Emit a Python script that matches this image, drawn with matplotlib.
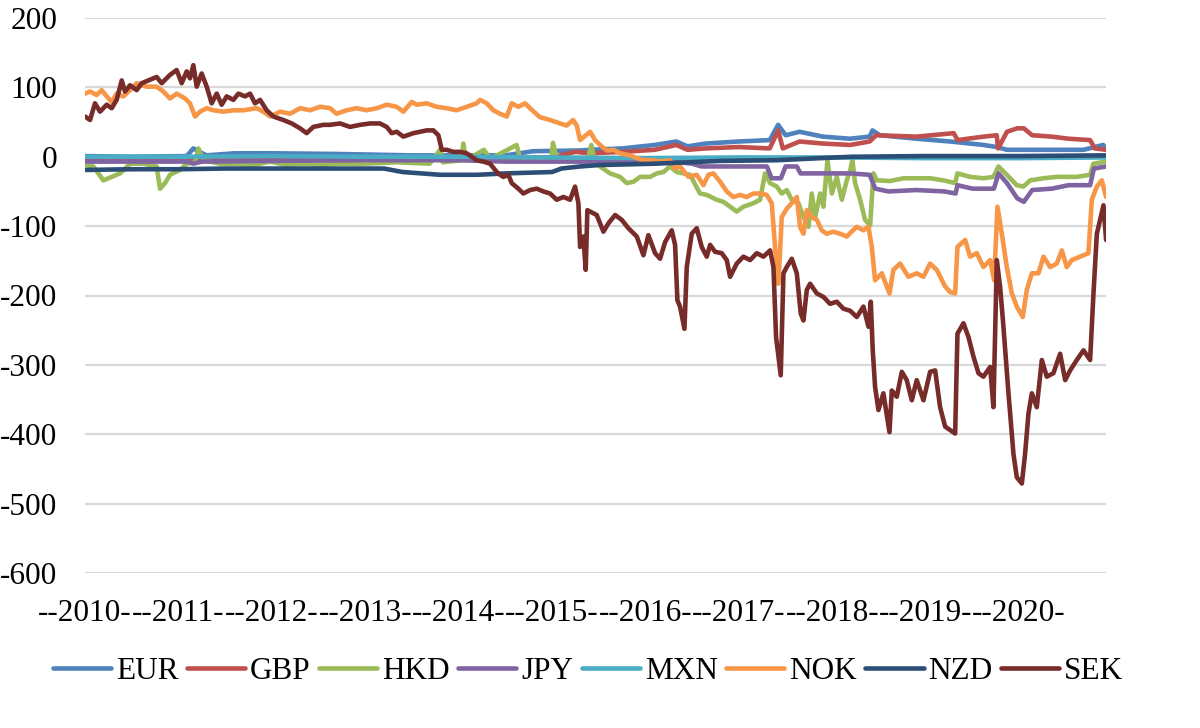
import numpy as np
import matplotlib
matplotlib.use("Agg")
import matplotlib.pyplot as plt

# values; time in decimal years
sek_t = [2010.000, 2010.054, 2010.107, 2010.161, 2010.232, 2010.286, 2010.339, 2010.393, 2010.428, 2010.482,
         2010.553, 2010.607, 2010.678, 2010.767, 2010.821, 2010.910, 2010.981, 2011.035, 2011.089, 2011.124,
         2011.160, 2011.196, 2011.249, 2011.303, 2011.356, 2011.410, 2011.463, 2011.517, 2011.588, 2011.642,
         2011.713, 2011.767, 2011.820, 2011.874, 2011.945, 2012.016, 2012.123, 2012.213, 2012.302, 2012.373,
         2012.444, 2012.552, 2012.623, 2012.730, 2012.837, 2012.944, 2013.051, 2013.158, 2013.230, 2013.283,
         2013.337, 2013.408, 2013.515, 2013.587, 2013.658, 2013.729, 2013.783, 2013.819, 2013.872, 2013.944,
         2014.015, 2014.086, 2014.140, 2014.193, 2014.265, 2014.336, 2014.408, 2014.443, 2014.479, 2014.532,
         2014.568, 2014.639, 2014.693, 2014.764, 2014.836, 2014.907, 2014.979, 2015.050, 2015.121, 2015.193,
         2015.246, 2015.282, 2015.300, 2015.335, 2015.360, 2015.378, 2015.407, 2015.478, 2015.550, 2015.603,
         2015.675, 2015.746, 2015.817, 2015.907, 2015.978, 2016.031, 2016.103, 2016.156, 2016.210, 2016.281,
         2016.317, 2016.342, 2016.370, 2016.417, 2016.442, 2016.495, 2016.549, 2016.602, 2016.656, 2016.692,
         2016.745, 2016.816, 2016.870, 2016.906, 2016.977, 2017.048, 2017.120, 2017.191, 2017.263, 2017.334,
         2017.370, 2017.398, 2017.448, 2017.477, 2017.512, 2017.566, 2017.620, 2017.662, 2017.691, 2017.727,
         2017.762, 2017.834, 2017.905, 2017.976, 2018.048, 2018.119, 2018.191, 2018.262, 2018.333, 2018.387,
         2018.412, 2018.433, 2018.458, 2018.494, 2018.547, 2018.612, 2018.637, 2018.690, 2018.744, 2018.797,
         2018.851, 2018.904, 2018.976, 2019.047, 2019.101, 2019.154, 2019.208, 2019.261, 2019.315, 2019.340,
         2019.404, 2019.458, 2019.511, 2019.565, 2019.618, 2019.690, 2019.725, 2019.761, 2019.797, 2019.832,
         2019.886, 2019.939, 2019.975, 2020.029, 2020.064, 2020.100, 2020.136, 2020.189, 2020.243, 2020.296,
         2020.367, 2020.439, 2020.493, 2020.546, 2020.617, 2020.689, 2020.760, 2020.796, 2020.832, 2020.867,
         2020.903, 2020.931]
sek_v = [58, 53, 77, 65, 75, 70, 82, 110, 94, 103,
         96, 106, 110, 115, 106, 118, 125, 106, 123, 113,
         132, 101, 120, 101, 77, 91, 75, 87, 82, 91,
         87, 91, 77, 82, 67, 58, 53, 48, 41, 34,
         43, 46, 46, 48, 43, 46, 48, 48, 43, 34,
         36, 29, 34, 36, 38, 38, 31, 10, 10, 7,
         7, 5, 0, -5, -7, -10, -22, -26, -29, -26,
         -38, -46, -53, -48, -46, -50, -53, -62, -58, -62,
         -43, -67, -130, -115, -163, -77, -79, -84, -108, -96,
         -84, -91, -103, -115, -142, -113, -139, -147, -123, -106,
         -127, -207, -216, -248, -159, -111, -103, -130, -144, -127,
         -137, -139, -149, -173, -154, -144, -149, -139, -144, -135,
         -159, -260, -315, -168, -159, -147, -168, -226, -236, -192,
         -183, -197, -202, -212, -209, -219, -222, -231, -216, -245,
         -209, -279, -332, -365, -341, -397, -337, -346, -310, -322,
         -351, -322, -351, -310, -308, -361, -389, -394, -399, -255,
         -240, -260, -288, -312, -317, -303, -361, -149, -188, -245,
         -341, -428, -462, -471, -428, -370, -341, -361, -293, -317,
         -312, -284, -322, -308, -293, -279, -293, -197, -111, -91,
         -70, -120]

nok_t = [2010.000, 2010.054, 2010.125, 2010.178, 2010.232, 2010.286, 2010.339, 2010.410, 2010.482, 2010.553,
         2010.660, 2010.767, 2010.839, 2010.910, 2010.981, 2011.071, 2011.124, 2011.178, 2011.231, 2011.303,
         2011.374, 2011.481, 2011.588, 2011.695, 2011.838, 2011.909, 2011.981, 2012.088, 2012.195, 2012.302,
         2012.409, 2012.516, 2012.623, 2012.694, 2012.801, 2012.908, 2013.016, 2013.123, 2013.230, 2013.337,
         2013.408, 2013.497, 2013.551, 2013.658, 2013.765, 2013.872, 2013.979, 2014.086, 2014.193, 2014.229,
         2014.301, 2014.372, 2014.443, 2014.515, 2014.568, 2014.639, 2014.711, 2014.764, 2014.870, 2014.979,
         2015.086, 2015.157, 2015.225, 2015.264, 2015.300, 2015.353, 2015.407, 2015.460, 2015.530, 2015.590,
         2015.660, 2015.728, 2015.835, 2015.907, 2015.978, 2016.085, 2016.156, 2016.263,
         2016.317, 2016.370, 2016.460, 2016.549, 2016.620, 2016.674, 2016.727, 2016.799, 2016.870, 2016.941,
         2017.013, 2017.084, 2017.155, 2017.227, 2017.298, 2017.352, 2017.387, 2017.423, 2017.459, 2017.512,
         2017.566, 2017.620, 2017.655, 2017.691, 2017.727, 2017.780, 2017.834, 2017.887, 2017.941, 2018.012,
         2018.084, 2018.155, 2018.191, 2018.262, 2018.333, 2018.387, 2018.423, 2018.458, 2018.530, 2018.612,
         2018.654, 2018.726, 2018.815, 2018.904, 2018.976, 2019.047, 2019.118, 2019.208, 2019.261, 2019.315,
         2019.340, 2019.422, 2019.475, 2019.547, 2019.618, 2019.690, 2019.732, 2019.768, 2019.815, 2019.868,
         2019.922, 2019.975, 2020.039, 2020.082, 2020.136, 2020.207, 2020.261, 2020.332, 2020.403, 2020.457,
         2020.510, 2020.564, 2020.653, 2020.742, 2020.778, 2020.832, 2020.885, 2020.931]
nok_v = [91, 94, 89, 96, 87, 79, 91, 87, 96, 106,
         101, 101, 94, 84, 91, 84, 77, 58, 65, 70,
         67, 65, 67, 67, 70, 65, 58, 65, 62, 70,
         67, 72, 70, 62, 67, 70, 67, 70, 75, 72,
         65, 79, 75, 77, 72, 70, 67, 72, 77, 82,
         77, 67, 62, 58, 77, 72, 77, 70, 57, 53,
         48, 45, 53, 45, 24, 30, 36, 24, 15, 9,
         10, 5, 2, -2, -5, -5, -7, -5,
         -17, -14, -29, -26, -41, -26, -24, -36, -50, -58,
         -55, -58, -53, -53, -55, -67, -130, -183, -87, -75,
         -67, -58, -101, -111, -77, -87, -91, -106, -111, -108,
         -111, -115, -110, -101, -106, -101, -130, -178, -168, -197,
         -163, -154, -173, -168, -173, -154, -163, -187, -195, -197,
         -130, -120, -144, -139, -159, -149, -178, -72, -111, -159,
         -197, -216, -231, -192, -168, -168, -144, -159, -154, -135,
         -159, -149, -144, -139, -62, -43, -34, -58]

hkd_t = [2010.000, 2010.090, 2010.196, 2010.268, 2010.375, 2010.482, 2010.625, 2010.767, 2010.803, 2010.857,
         2010.910, 2011.017, 2011.089, 2011.180, 2011.214, 2011.267, 2011.445, 2011.624, 2011.802, 2011.981,
         2012.159, 2012.338, 2012.516, 2012.730, 2012.980, 2013.340, 2013.690, 2013.800, 2013.830, 2014.030,
         2014.050, 2014.080, 2014.270, 2014.340, 2014.620, 2014.660, 2014.990, 2015.010, 2015.050, 2015.380,
         2015.420, 2015.460, 2015.514, 2015.621, 2015.728, 2015.800, 2015.871, 2015.943, 2016.049,
         2016.121, 2016.192, 2016.263, 2016.335, 2016.477, 2016.584, 2016.656, 2016.763, 2016.834, 2016.906,
         2016.977, 2017.048, 2017.155, 2017.227, 2017.280, 2017.334, 2017.405, 2017.459, 2017.512, 2017.566,
         2017.638, 2017.691, 2017.745, 2017.780, 2017.816, 2017.870, 2017.905, 2017.948, 2017.995, 2018.048,
         2018.102, 2018.155, 2018.191, 2018.215, 2018.244, 2018.298, 2018.351, 2018.405, 2018.440, 2018.476,
         2018.619, 2018.761, 2018.904, 2019.047, 2019.190, 2019.315, 2019.340, 2019.475, 2019.618, 2019.725,
         2019.779, 2019.868, 2019.975, 2020.046, 2020.118, 2020.261, 2020.403, 2020.617, 2020.760, 2020.796,
         2020.931]
hkd_v = [-12, -14, -34, -30, -24, -10, -10, -14, -46, -38,
         -26, -19, -10, -8, 12, -5, -10, -10, -12, -7,
         -12, -10, -12, -10, -10, -8, -10, 10, -8, -5,
         19, -5, 10, -3, 17, -3, -3, 20, -3, -5,
         17, -8, -14, -24, -29, -38, -36, -29, -29,
         -24, -22, -14, -22, -26, -53, -55, -62, -65, -72,
         -79, -72, -67, -62, -24, -38, -43, -53, -48, -62,
         -67, -87, -101, -53, -87, -53, -72, -5, -53, -29,
         -62, -34, -20, -5, -38, -62, -91, -99, -24, -34,
         -35, -31, -31, -31, -34, -38, -24, -29, -31, -29,
         -14, -26, -41, -43, -34, -31, -29, -29, -26, -10,
         -7]

eur_t = [2010.000, 2010.500, 2011.089, 2011.160, 2011.214, 2011.300, 2011.600, 2012.000, 2012.700, 2013.500,
         2014.500, 2014.800, 2015.300, 2015.407, 2015.750, 2016.100, 2016.330, 2016.450, 2016.640, 2017.000,
         2017.330, 2017.420, 2017.500, 2017.650, 2017.900, 2018.190, 2018.400, 2018.430, 2018.510, 2018.900,
         2019.260, 2019.620, 2019.760, 2019.870, 2020.050, 2020.690, 2020.900, 2020.931]
eur_v = [1, 0, 1, 12, 8, 2, 5, 5, 4, 2,
         2, 8, 9, 10, 12, 17, 22, 15, 19, 22,
         24, 46, 31, 36, 29, 26, 29, 38, 31, 26,
         22, 17, 14, 10, 10, 10, 17, 12]

gbp_t = [2010.000, 2011.000, 2011.300, 2012.000, 2013.000, 2014.000, 2015.000, 2015.250, 2015.407, 2015.750,
         2016.100, 2016.330, 2016.450, 2016.640, 2017.000, 2017.330, 2017.420, 2017.470, 2017.650, 2017.900,
         2018.190, 2018.400, 2018.470, 2018.900, 2019.300, 2019.340, 2019.620, 2019.760, 2019.775, 2019.870,
         2019.980, 2020.050, 2020.140, 2020.350, 2020.530, 2020.760, 2020.810, 2020.931]
gbp_v = [-5, -5, -3, -2, -2, -2, -1, 7, 5, 7,
         10, 17, 10, 12, 14, 12, 38, 12, 22, 19,
         17, 22, 31, 29, 34, 24, 29, 31, 12, 36,
         41, 41, 31, 29, 26, 24, 12, 10]

jpy_t = [2010.000, 2011.100, 2011.160, 2011.250, 2012.000, 2013.000, 2014.000, 2014.500, 2015.400, 2016.300,
         2016.500, 2016.600, 2017.300, 2017.350, 2017.450, 2017.500, 2017.620, 2017.660, 2018.190, 2018.400,
         2018.460, 2018.600, 2018.900, 2019.200, 2019.320, 2019.340, 2019.500, 2019.730, 2019.780, 2019.870,
         2019.980, 2020.050, 2020.140, 2020.350, 2020.530, 2020.760, 2020.800, 2020.931]
jpy_v = [-7, -7, -10, -7, -6, -5, -5, -7, -7, -7,
         -10, -14, -14, -31, -31, -14, -14, -24, -24, -26,
         -46, -50, -48, -50, -53, -41, -46, -46, -24, -38,
         -60, -65, -48, -46, -41, -41, -17, -14]

mxn_t = [2010.000, 2011.000, 2012.000, 2013.000, 2014.000, 2015.000, 2016.000, 2017.000, 2018.000, 2019.000,
         2020.000, 2020.931]
mxn_v = [0, 0, 1, 0, 0, -1, -2, -1, -1, -2, -2, -1]

nzd_t = [2010.000, 2010.500, 2011.000, 2011.500, 2012.000, 2012.700, 2013.200, 2013.400, 2013.800, 2014.200,
         2014.500, 2015.000, 2015.100, 2015.300, 2015.500, 2016.100, 2016.800, 2017.400, 2018.200, 2019.000,
         2020.000, 2020.931]
nzd_v = [-19, -18, -18, -17, -17, -17, -17, -22, -26, -26,
         -24, -22, -17, -14, -12, -10, -6, -5, 0, 1,
         1, 2]

names = ["EUR", "GBP", "HKD", "JPY", "MXN", "NOK", "NZD", "SEK"]
times = [eur_t, gbp_t, hkd_t, jpy_t, mxn_t, nok_t, nzd_t, sek_t]
values = [eur_v, gbp_v, hkd_v, jpy_v, mxn_v, nok_v, nzd_v, sek_v]
colors = ["#4F81BD", "#C0504D", "#9BBB59", "#8064A2", "#4BACC6", "#F79646", "#2C4D75", "#772C2A"]

years = list(range(2010, 2021))
year_labels = ["--%d-" % y for y in years]

plt.rcParams["font.family"] = ["Liberation Serif", "DejaVu Serif"]
plt.rcParams["axes.unicode_minus"] = False

fig = plt.figure(figsize=(12, 7.28), dpi=100)
ax = fig.add_axes([85 / 1200, 1 - 573 / 728, 1021 / 1200, 555 / 728])

for name, t, v, c in zip(names, times, values, colors):
    ax.plot(t, v, color=c, lw=3.3, label=name, solid_joinstyle="round", solid_capstyle="round")

ax.set_xlim(2010.0, 2020.93)
ax.set_ylim(-600, 200)
ax.set_yticks(np.arange(-600, 201, 100))
ax.set_xticks(years)
ax.set_xticklabels(year_labels)
ax.grid(axis="y", color="#d9d9d9", lw=1.6)
ax.set_axisbelow(True)
for s in ax.spines.values():
    s.set_visible(False)
ax.tick_params(axis="both", length=0, labelsize=22.5)
ax.tick_params(axis="y", pad=20)
ax.tick_params(axis="x", pad=19)

ax.legend(loc="center", bbox_to_anchor=(0.4927, -0.177), ncol=8, frameon=False,
          fontsize=22.5, handlelength=1.86, handletextpad=0.16, columnspacing=0.27)

fig.savefig("out.png", dpi=100)
